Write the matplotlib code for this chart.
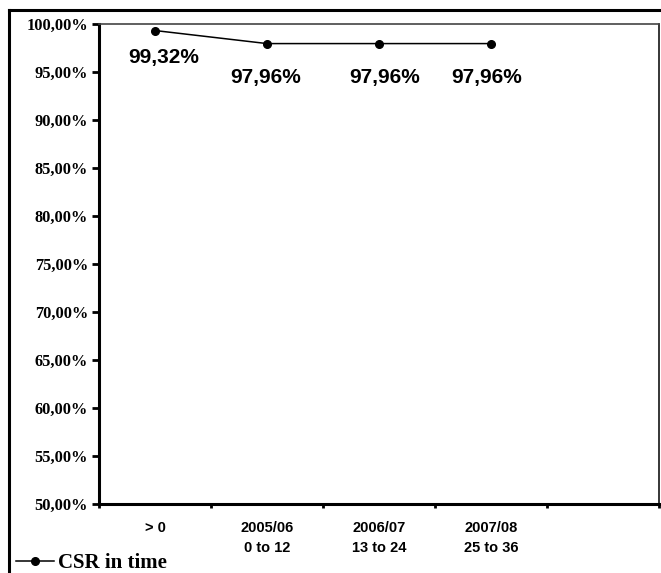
import matplotlib
matplotlib.use('Agg')
import matplotlib.pyplot as plt
from matplotlib.lines import Line2D
from matplotlib.ticker import FuncFormatter

# categories (last slot is empty in the original chart)
categories = ['> 0', '2005/06\n0 to 12', '2006/07\n13 to 24', '2007/08\n25 to 36', '']
csr_values = [99.32, 97.96, 97.96, 97.96]
value_labels = ['99,32%', '97,96%', '97,96%', '97,96%']
y_ticks = [50, 55, 60, 65, 70, 75, 80, 85, 90, 95, 100]

W, H = 661, 573
fig = plt.figure(figsize=(W / 100, H / 100), dpi=100)
ax = fig.add_axes([99 / W, 1 - 504 / H, (659 - 99) / W, (504 - 24) / H])

x_pos = [i + 0.5 for i in range(len(csr_values))]
ax.plot(x_pos, csr_values, color='black', lw=1.1, marker='o', ms=5.5,
        label='CSR in time')

# data labels below the points (offsets in points)
label_offsets = [(6, -19.5), (-1, -24.5), (4, -24.5), (-3, -24.5)]
for x, v, lab, off in zip(x_pos, csr_values, value_labels, label_offsets):
    ax.annotate(lab, (x, v), xytext=off, textcoords='offset points',
                ha='center', va='center', fontsize=15, fontweight='bold',
                family='Liberation Sans')

ax.set_xlim(0, len(categories))
ax.set_ylim(50, 100)
ax.set_yticks(y_ticks)
ax.yaxis.set_major_formatter(FuncFormatter(lambda v, p: f'{v:.2f}%'.replace('.', ',')))
for t in ax.get_yticklabels():
    t.set_fontfamily('Liberation Serif')
    t.set_fontweight('bold')
    t.set_fontsize(11.8)
ax.tick_params(axis='y', direction='out', length=5, width=2, pad=3)

# category boundaries as major ticks, names on minor ticks
ax.set_xticks(range(len(categories) + 1))
ax.set_xticklabels([''] * (len(categories) + 1))
ax.set_xticks(x_pos + [len(categories) - 0.5], minor=True)
ax.set_xticklabels(categories, minor=True, fontsize=10.5, fontweight='bold',
                   family='Liberation Sans', linespacing=1.6)
ax.tick_params(axis='x', which='major', direction='out', length=3, width=2)
ax.tick_params(axis='x', which='minor', length=0, pad=12)

ax.spines['left'].set_linewidth(2.2)
ax.spines['bottom'].set_linewidth(2.2)
ax.spines['top'].set_linewidth(1.2)
ax.spines['top'].set_color('#444444')
ax.spines['right'].set_linewidth(1.1)

# outer chart frame (top and left edges visible)
fig.add_artist(Line2D([9 / W, 1], [1 - 10 / H, 1 - 10 / H], color='black', lw=2.2))
fig.add_artist(Line2D([9 / W, 9 / W], [0, 1 - 10 / H], color='black', lw=2.2))

fig.legend(loc='center left', bbox_to_anchor=(16 / W, 1 - 563 / H), frameon=False,
           borderpad=0, handlelength=1.8, handletextpad=0.2, borderaxespad=0,
           prop={'family': 'Liberation Serif', 'weight': 'bold', 'size': 15})

fig.savefig('out.png', dpi=100)
